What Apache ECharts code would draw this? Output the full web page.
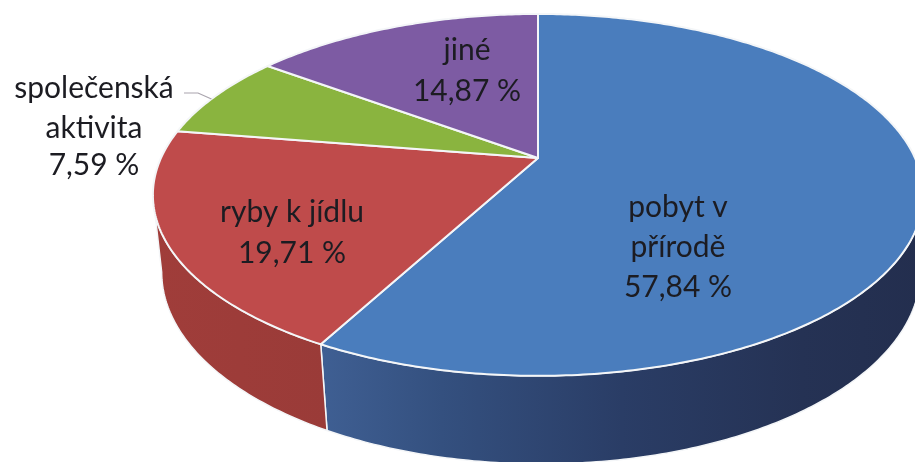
<!DOCTYPE html>
<html>
<head>
<meta charset="utf-8">
<style>html,body{margin:0;padding:0;background:#fff}#c{width:915px;height:462px;filter:blur(0.5px)}</style>
<script src="https://cdn.jsdelivr.net/npm/echarts@6/dist/echarts.min.js"></script>
</head>
<body>
<div id="c"></div>
<script>
// Data, clockwise from twelve o'clock
const categories = ['pobyt v přírodě', 'ryby k jídlu', 'společenská aktivita', 'jiné'];
const labelLines = [['pobyt v', 'přírodě'], ['ryby k jídlu'], ['společenská', 'aktivita'], ['jiné']];
const values = [57.84, 19.71, 7.59, 14.87];

// Styles and layout
const topColors = ['#4a7dbd', '#bf4b4b', '#8ab43f', '#7d5ba3'];
const wallStops = [
  [[0, '#3f5f93'], [0.2, '#34507f'], [0.5, '#2a3d66'], [0.8, '#253254'], [1, '#232e4e']],
  [[0, '#a03d3a'], [1, '#9a3b38']],
  [[0, '#6f8f33'], [1, '#6f8f33']],
  [[0, '#5f4580'], [1, '#5f4580']]
];
const labelAnchors = [[678, 207], [292, 212], [94, 88], [467, 50]];
const lineGap = [40, 41, 40, 41];
const view = {cx: 538, cy: 158, rx: 377, ry: 173.4, k: 0.204};
const base = {sx: 0.985, dx: 3, sy: 1.06, dy: 75};

const total = values.reduce((a, b) => a + b, 0);
const starts = [];
values.reduce((acc, v, i) => (starts[i] = acc, acc + v), 0);

function project(theta, ring) {
  const u = Math.sin(theta), v = -Math.cos(theta), w = 1 - view.k * v;
  const x = view.rx * u / w, y = view.ry * v / w;
  if (ring === 'base') return [view.cx + base.dx + base.sx * x, view.cy + base.dy + base.sy * y];
  return [view.cx + x, view.cy + y];
}
function arc(a0, a1, ring) {
  const n = Math.max(2, Math.ceil(Math.abs(a1 - a0) / 0.012));
  const pts = [];
  for (let i = 0; i <= n; i++) pts.push(project(a0 + (a1 - a0) * i / n, ring));
  return pts;
}

const rightEdge = Math.acos(-view.k), leftEdge = 2 * Math.PI - rightEdge;

function renderSlice(params, api) {
  const i = params.dataIndex;
  const a0 = starts[i] / total * 2 * Math.PI;
  const a1 = (starts[i] + api.value(0)) / total * 2 * Math.PI;
  const children = [];
  const w0 = Math.max(a0, rightEdge), w1 = Math.min(a1, leftEdge);
  if (w1 > w0) {
    const upper = arc(w0, w1, 'top');
    const lower = arc(w1, w0, 'base');
    const xs = upper.map(p => p[0]).concat(lower.map(p => p[0]));
    const xMin = Math.min.apply(null, xs), xMax = Math.max.apply(null, xs);
    children.push({
      type: 'polygon',
      shape: {points: upper.concat(lower)},
      style: {
        fill: new echarts.graphic.LinearGradient(xMin, 0, xMax, 0,
          wallStops[i].map(s => ({offset: s[0], color: s[1]})), true),
        stroke: '#f4f6f8', lineWidth: 1.5, lineJoin: 'round'
      }
    });
  }
  const pts = [[view.cx, view.cy]].concat(arc(a0, a1, 'top'));
  children.push({
    type: 'polygon',
    shape: {points: pts},
    style: {fill: api.visual('color'), stroke: '#f4f6f8', lineWidth: 2, lineJoin: 'round'}
  });
  return {type: 'group', children: children};
}

function renderLabel(params, api) {
  const i = params.dataIndex;
  const anchor = labelAnchors[i];
  const pct = api.value(0).toFixed(2).replace('.', ',') + ' %';
  const lines = labelLines[i].concat([pct]);
  const children = lines.map((t, j) => ({
    type: 'text',
    style: {
      text: t, x: anchor[0], y: anchor[1] + j * lineGap[i] - (i === 2 && j === 2 ? 3 : 0),
      align: 'center', verticalAlign: 'middle',
      font: '30px Lato, "Open Sans", sans-serif', fill: '#1c1c22'
    }
  }));
  if (i === 2) {
    const rim = project((starts[i] + values[i] * 0.45) / total * 2 * Math.PI, 'top');
    children.push({
      type: 'polyline',
      shape: {points: [[184, 93], [198, 93], rim]},
      style: {stroke: '#a9a4ad', lineWidth: 1.2, fill: null}
    });
  }
  return {type: 'group', children: children};
}

const seriesData = categories.map((n, i) => ({name: n, value: values[i], itemStyle: {color: topColors[i]}}));

const chart = echarts.init(document.getElementById('c'), null, {renderer: 'canvas'});
chart.setOption({
  animation: false,
  backgroundColor: '#ffffff',
  series: [
    {type: 'custom', name: 'slices', coordinateSystem: 'none', renderItem: renderSlice, data: seriesData, silent: true, z: 1, clip: false},
    {type: 'custom', name: 'labels', coordinateSystem: 'none', renderItem: renderLabel, data: seriesData, silent: true, z: 2, clip: false}
  ]
});
</script>
</body>
</html>
